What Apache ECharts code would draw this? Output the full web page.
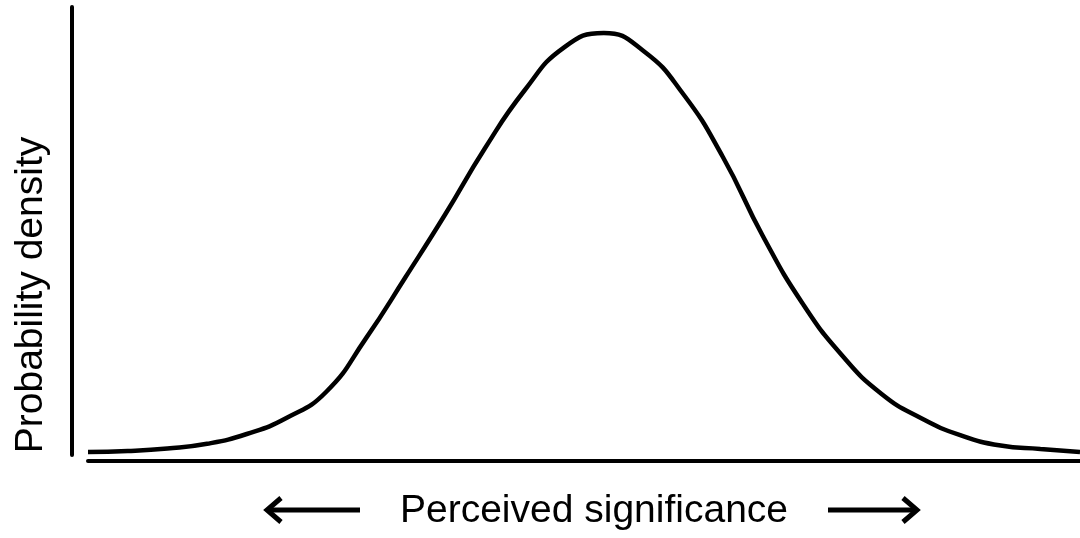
<!DOCTYPE html>
<html>
<head>
<meta charset="utf-8">
<script src="https://cdn.jsdelivr.net/npm/echarts@6/dist/echarts.min.js"></script>
<style>html,body{margin:0;padding:0;background:#fff}#c{width:1080px;height:538px}</style>
</head>
<body>
<div id="c"></div>
<script>
// Perceived significance (0-100 scale) and probability density (relative, 0-1)
var xValues = [0, 4, 8, 12, 16, 20, 24, 28, 32, 36, 40, 44, 48, 52, 56, 60, 64, 68, 72, 76, 80, 84, 88, 92, 96, 100];
var densityValues = [0.0067, 0.0089, 0.0145, 0.025, 0.0469, 0.0826, 0.1406, 0.2598, 0.3967, 0.5368, 0.6842, 0.8136, 0.9100, 0.9420, 0.9018, 0.8058, 0.6652, 0.4900, 0.3393, 0.2225, 0.1362, 0.0819, 0.0438, 0.0210, 0.0134, 0.0067];
var xAxisName = 'Perceived significance';
var yAxisName = 'Probability density';

var points = xValues.map(function (x, i) { return [x, densityValues[i]]; });
var chart = echarts.init(document.getElementById('c'), null, {renderer: 'canvas'});
var font = "'Liberation Sans', Arial, sans-serif";
chart.setOption({
  animation: false,
  backgroundColor: '#ffffff',
  grid: {left: 88, right: 0, top: 7, bottom: 83},
  xAxis: {
    type: 'value', min: 0, max: 100, offset: 6,
    axisLine: {show: true, onZero: false, lineStyle: {color: '#000', width: 4}},
    axisTick: {show: false}, axisLabel: {show: false}, splitLine: {show: false},
    name: xAxisName, nameLocation: 'middle', nameGap: 31,
    nameTextStyle: {color: '#000', fontFamily: font, fontSize: 39, padding: [0, 0, 0, 20]}
  },
  yAxis: {
    type: 'value', min: 0, max: 1, offset: 16,
    axisLine: {show: true, onZero: false, lineStyle: {color: '#000', width: 4}},
    axisTick: {show: false}, axisLabel: {show: false}, splitLine: {show: false},
    name: yAxisName, nameLocation: 'middle', nameGap: 21, nameRotate: 90,
    nameTextStyle: {color: '#000', fontFamily: font, fontSize: 39, padding: [0, 128, 0, 0]}
  },
  series: [{
    type: 'line', data: points, smooth: 0.5, showSymbol: false, symbol: 'none',
    lineStyle: {color: '#000', width: 4.5}
  }],
  graphic: [
    {type: 'polyline', shape: {points: [[360, 510], [268, 510]]}, style: {stroke: '#000', lineWidth: 5, fill: null}},
    {type: 'polyline', shape: {points: [[281, 498], [267, 510], [281, 522]]}, style: {stroke: '#000', lineWidth: 5, fill: null, lineJoin: 'miter'}},
    {type: 'polyline', shape: {points: [[828, 510], [916, 510]]}, style: {stroke: '#000', lineWidth: 5, fill: null}},
    {type: 'polyline', shape: {points: [[903, 498], [917, 510], [903, 522]]}, style: {stroke: '#000', lineWidth: 5, fill: null, lineJoin: 'miter'}}
  ]
});
</script>
</body>
</html>
